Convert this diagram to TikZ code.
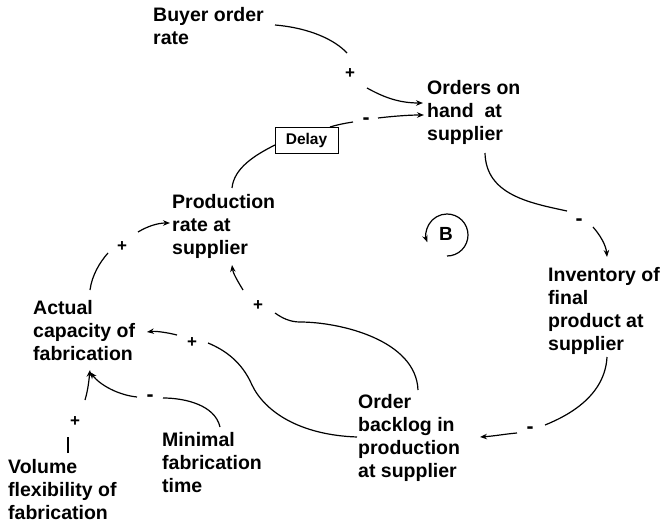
\documentclass[tikz,border=0pt]{standalone}
\usepackage{fontspec}
\setmainfont{Liberation Sans}[BoldFont={Liberation Sans Bold}]
\usetikzlibrary{arrows.meta}
\begin{document}
\begin{tikzpicture}[x=1pt,y=-1pt,
  % base anchor of a multi-line label = baseline of its last line
  lbl/.style={font=\bfseries\fontsize{19.5}{23}\selectfont, align=left, anchor=base west, inner sep=0pt},
  sgn/.style={font=\bfseries\fontsize{17}{20}\selectfont, inner sep=0pt},
  neg/.style={font=\bfseries\fontsize{21}{24}\selectfont, inner sep=0pt},
  plain/.style={line width=1.2pt},
  link/.style={line width=1.2pt, -{Stealth[length=7pt,width=5.5pt]}},
  delaybox/.style={draw, line width=0.9pt, font=\bfseries\fontsize{15.5}{18}\selectfont,
    minimum width=63pt, minimum height=26pt, inner sep=0pt}]
\useasboundingbox (0,0) rectangle (664,524);

% variables
\node[lbl] (buyer) at (153,45) {Buyer order\\rate};
\node[lbl] (orders) at (427,141) {Orders on\\hand~ at\\supplier};
\node[lbl] (prod) at (172,254) {Production\\rate at\\supplier};
\node[lbl] (inv) at (548,350) {Inventory of\\final\\product at\\supplier};
\node[lbl] (cap) at (33,360) {Actual\\capacity of\\fabrication};
\node[lbl] (backlog) at (358,477) {Order\\backlog in\\production\\at supplier};
\node[lbl] (vol) at (8,519) {Volume\\flexibility of\\fabrication};
\node[lbl] (mintime) at (162,492) {Minimal\\fabrication\\time};
\node[delaybox] (delay) at (306.5,140) {Delay};

% polarity signs
\node[sgn] (s1) at (350,74) {+};
\node[neg] (s2) at (366,121) {-};
\node[neg] (s3) at (579,222) {-};
\node[neg] (s4) at (530,430) {-};
\node[sgn] (s5) at (258,306) {+};
\node[sgn] (s6) at (192,343) {+};
\node[sgn] (s7) at (122,247) {+};
\node[sgn] (s8) at (75,422) {+};
\node[neg] (s9) at (150,398) {-};

% connector end points
\coordinate (a1) at (275,25);   \coordinate (a2) at (347,53);
\coordinate (a3) at (367,88);   \coordinate (a4) at (423,103);
\coordinate (b1) at (232,188);  \coordinate (b2) at (275,145);
\coordinate (b3) at (330,127);  \coordinate (b4) at (353,122);
\coordinate (b5) at (378,118);  \coordinate (b6) at (424,115);
\coordinate (c1) at (485,153);  \coordinate (c2) at (567,211);
\coordinate (c3) at (593,227);  \coordinate (c4) at (607,257);
\coordinate (d1) at (607,357);  \coordinate (d2) at (545,425);
\coordinate (d3) at (517,433);  \coordinate (d4) at (480,437);
\coordinate (e1) at (418,390);  \coordinate (e2) at (275,313);
\coordinate (e3) at (243,290);  \coordinate (e4) at (232,265);
\coordinate (f1) at (357,437);  \coordinate (f2) at (208,343);
\coordinate (f3) at (177,335);  \coordinate (f4) at (147,332);
\coordinate (g1) at (90,290);   \coordinate (g2) at (108,253);
\coordinate (g3) at (138,232);  \coordinate (g4) at (170,223);
\coordinate (h1) at (68,453);   \coordinate (h2) at (68,437);
\coordinate (h3) at (85,400);   \coordinate (h4) at (90,370);
\coordinate (k1) at (220,427);  \coordinate (k2) at (163,398);
\coordinate (k3) at (137,397);  \coordinate (k4) at (90,372);

% buyer order rate -> orders on hand
\draw[plain] (a1) .. controls (310,28) and (335,40) .. (a2);
\draw[link]  (a3) .. controls (385,98) and (400,103) .. (a4);
% production rate -> delay -> orders on hand
\draw[plain] (b1) .. controls (234,168) and (255,155) .. (b2);
\draw[plain] (b3) .. controls (340,124) and (347,123) .. (b4);
\draw[link]  (b5) .. controls (395,116) and (410,115) .. (b6);
% orders on hand -> inventory
\draw[plain] (c1) .. controls (486,195) and (530,203) .. (c2);
\draw[link]  (c3) .. controls (600,235) and (606,245) .. (c4);
% inventory -> order backlog
\draw[plain] (d1) .. controls (605,395) and (570,415) .. (d2);
\draw[link]  (d3) .. controls (505,434) and (495,436) .. (d4);
% order backlog -> production rate
\draw[plain] (e1) .. controls (416,340) and (340,322) .. (300,322)
                 .. controls (290,322) and (282,318) .. (e2);
\draw[link]  (e3) .. controls (237,280) and (233,273) .. (e4);
% order backlog -> actual capacity
\draw[plain] (f1) .. controls (300,435) and (265,412) .. (252,385)
                 .. controls (242,362) and (225,350) .. (f2);
\draw[link]  (f3) .. controls (165,332) and (155,331) .. (f4);
% actual capacity -> production rate
\draw[plain] (g1) .. controls (92,275) and (100,262) .. (g2);
\draw[link]  (g3) .. controls (148,226) and (158,223) .. (g4);
% volume flexibility -> actual capacity
\draw[plain] (h1) -- (h2);
\draw[link]  (h3) .. controls (88,390) and (89,380) .. (h4);
% minimal fabrication time -> actual capacity
\draw[plain] (k1) .. controls (215,405) and (185,398) .. (k2);
\draw[link]  (k3) .. controls (118,395) and (100,385) .. (k4);

% balancing loop marker
\node[font=\bfseries\fontsize{19}{23}\selectfont, inner sep=0pt] (loopB) at (446,234) {B};
\draw[link] (loopB) ++(1,22) arc[start angle=90, end angle=-200, radius=21];
\end{tikzpicture}
\end{document}
